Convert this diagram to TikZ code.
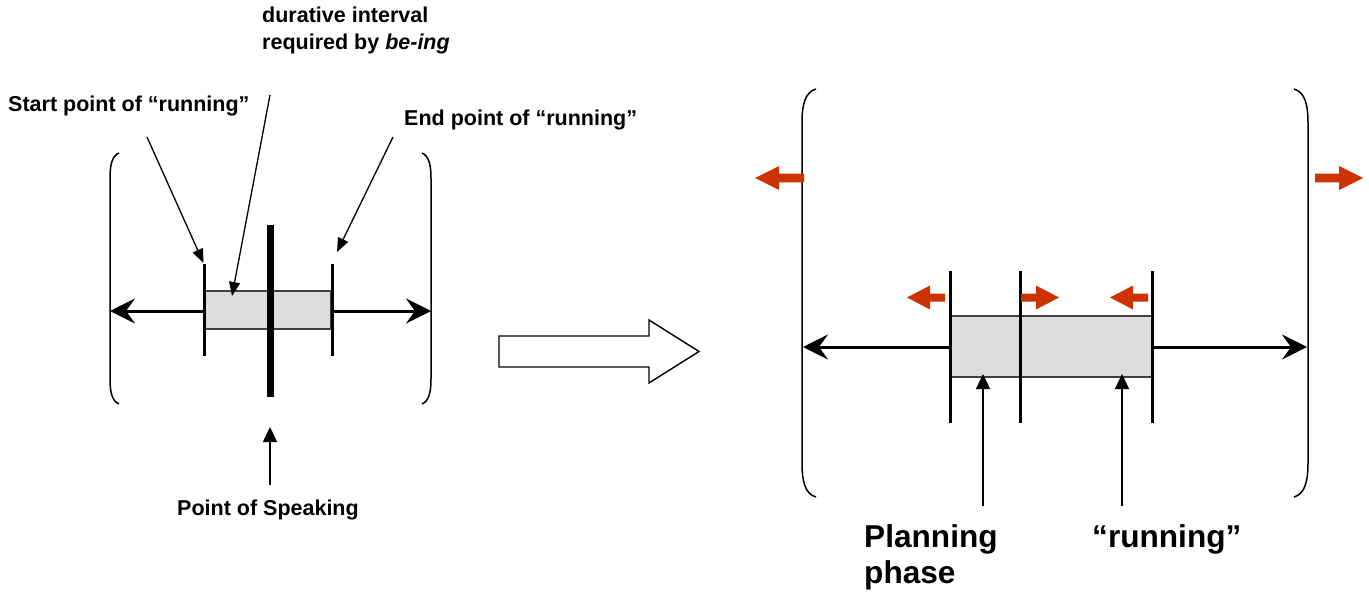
\documentclass[tikz,border=0pt]{standalone}
\usepackage{fontspec}
\setmainfont{Liberation Sans}
\usetikzlibrary{arrows.meta}
\definecolor{redc}{HTML}{CC3300}
\definecolor{boxgray}{HTML}{DDDDDD}
\definecolor{boxline}{HTML}{404040}
\newcommand\rarr[5]{% tip x, head base x, tail x, y, half shaft
  \fill[redc] (#1,#4) -- (#2,#4-12) -- (#2,#4-#5) -- (#3,#4-#5) -- (#3,#4+#5) -- (#2,#4+#5) -- (#2,#4+12) -- cycle;}
\tikzset{
  brk/.style={line width=1.5pt},
  axis/.style={line width=3pt,-{Stealth[length=25pt,width=25pt,inset=9pt]}},
  tick/.style={line width=3pt},
  lbl/.style={line width=1.3pt,-{Triangle[length=14pt,width=11pt]}},
  lbl2/.style={line width=1.3pt,-{Triangle[length=15pt,width=14pt]}},
  gbox/.style={fill=boxgray,draw=boxline,line width=1.4pt},
  small/.style={inner sep=0pt,font=\fontsize{21.5}{28}\selectfont\bfseries},
  big/.style={inner sep=0pt,font=\fontsize{31.6}{37}\selectfont\bfseries},
}
\begin{document}
\begin{tikzpicture}[x=1pt,y=-1pt]
\useasboundingbox (0,0) rectangle (1369,594);
% ---------- left diagram ----------
\draw[brk] (119,153) .. controls (112,156) and (110,165) .. (110,178) -- (110,379) .. controls (110,392) and (112,401) .. (119,404);
\draw[brk] (422,153) .. controls (429,156) and (431,165) .. (431,178) -- (431,379) .. controls (431,392) and (429,401) .. (422,404);
\draw[gbox] (205,291) rectangle (331,329);
\coordinate (lstart) at (204,311);
\coordinate (lend) at (332,311);
\coordinate (lleft) at (110,311);
\coordinate (lright) at (431,311);
\draw[axis] (lstart) -- (lleft);
\draw[axis] (lend) -- (lright);
\draw[tick] (204,264) -- (204,356);
\draw[tick] (332,264) -- (332,356);
\draw[line width=7pt] (270,225) -- (270,397);
% labels
\node[small,anchor=base west] (dur1) at (262,23) {durative interval};
\node[small,anchor=base west] (dur2) at (262,50) {required by \textit{be-ing}};
\node[small,anchor=base west] (startl) at (8,111) {Start point of “running”};
\node[small,anchor=base west] (endl) at (404,125) {End point of “running”};
\node[small,anchor=base west] (speak) at (177,515) {Point of Speaking};
\coordinate (s0) at (147,137); \coordinate (s1) at (203.5,263);
\coordinate (d0) at (270,95);  \coordinate (d1) at (232,296);
\coordinate (e0) at (393,137); \coordinate (e1) at (337,252);
\coordinate (p0) at (270,485); \coordinate (p1) at (270,427);
\draw[lbl] (s0) -- (s1);
\draw[lbl] (d0) -- (d1);
\draw[lbl] (e0) -- (e1);
\draw[lbl2] (p0) -- (p1);
% ---------- hollow arrow ----------
\draw[line width=1.4pt,fill=white] (499,336) -- (649,336) -- (649,320) -- (699,351.5) -- (649,383) -- (649,367) -- (499,367) -- cycle;
% ---------- right diagram ----------
\draw[brk] (816,89) .. controls (805,92) and (802,105) .. (802,123) -- (802,463) .. controls (802,481) and (805,494) .. (816,497);
\draw[brk] (1294,89) .. controls (1305,92) and (1308,105) .. (1308,123) -- (1308,463) .. controls (1308,481) and (1305,494) .. (1294,497);
\draw[gbox] (951,316) rectangle (1152,377);
\coordinate (rstart) at (950,347);
\coordinate (rend) at (1153,347);
\coordinate (rleft) at (803,347);
\coordinate (rright) at (1307,347);
\draw[axis] (rstart) -- (rleft);
\draw[axis] (rend) -- (rright);
\draw[tick] (950.5,271) -- (950.5,423);
\draw[tick] (1020.5,271) -- (1020.5,423);
\draw[tick] (1152.5,271) -- (1152.5,423);
% red arrows
\rarr{755}{779}{804}{178}{4.4}
\rarr{1363}{1339}{1315}{178}{4.4}
\rarr{907}{930}{945}{297.5}{4}
\rarr{1059}{1036}{1021}{297.5}{4}
\rarr{1110}{1133}{1148}{297.5}{4}
% labels
\node[big,anchor=base west] (plan1) at (864,547) {Planning};
\node[big,anchor=base west] (plan2) at (864,583) {phase};
\node[big,anchor=base west] (runl) at (1092,547) {“running”};
\coordinate (a0) at (983,506); \coordinate (a1) at (983,374);
\coordinate (b0) at (1122,506); \coordinate (b1) at (1122,374);
\draw[lbl2] (a0) -- (a1);
\draw[lbl2] (b0) -- (b1);
\end{tikzpicture}
\end{document}
